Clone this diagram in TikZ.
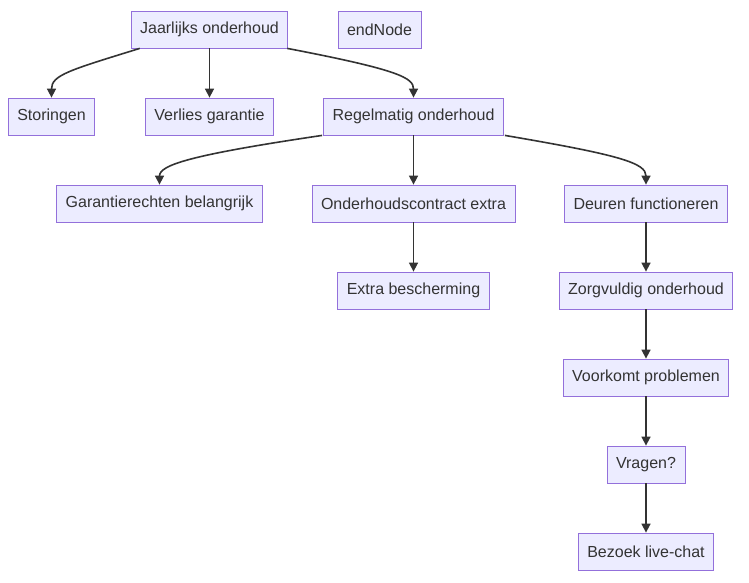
\documentclass[tikz,border=0pt]{standalone}
\usepackage{fontspec}
\setmainfont{Liberation Sans}
\usetikzlibrary{arrows.meta}
\begin{document}
\begin{tikzpicture}[x=1pt,y=-1pt,
  box/.style={draw=purple!50!blue!60!white,draw={rgb,255:red,147;green,112;blue,219},fill={rgb,255:red,236;green,236;blue,255},line width=0.8pt,minimum height=37pt,inner xsep=9pt,font=\fontsize{16}{18}\selectfont,text={rgb,255:red,51;green,51;blue,51}},
  ar/.style={draw={rgb,255:red,51;green,51;blue,51},line width=1.6pt,-{Triangle[length=9pt,width=9pt]}}]
\useasboundingbox (0,0) rectangle (749,582);
\node[box] (J) at (209.5,29.5) {Jaarlijks onderhoud};
\node[box] (E) at (379.5,29.5) {endNode};
\node[box] (S) at (51.5,116.5) {Storingen};
\node[box] (V) at (209.5,116.5) {Verlies garantie};
\node[box] (R) at (413.5,116.5) {Regelmatig onderhoud};
\node[box] (G) at (159.5,203.5) {Garantierechten belangrijk};
\node[box] (O) at (413.5,203.5) {Onderhoudscontract extra};
\node[box] (D) at (646,203.5) {Deuren functioneren};
\node[box] (X) at (413.5,290.5) {Extra bescherming};
\node[box] (Z) at (646,290.5) {Zorgvuldig onderhoud};
\node[box] (K) at (646,377.5) {Voorkomt problemen};
\node[box] (Q) at (646,464.5) {Vragen?};
\node[box] (B) at (646,551.5) {Bezoek live-chat};
\draw[ar] ([xshift=9]J.south west) .. controls (70,70) and (51.5,75) .. (S.north);
\draw[ar] (J) -- (V);
\draw[ar] ([xshift=-1]J.south east) .. controls (400,70) and (413.5,78) .. (R.north);
\draw[ar] ([xshift=-1]R.south west) .. controls (190,155) and (159.5,165) .. (G.north);
\draw[ar] (R) -- (O);
\draw[ar] ([xshift=1]R.south east) .. controls (620,155) and (646,163) .. (D.north);
\draw[ar] (O) -- (X);
\draw[ar] (D) -- (Z);
\draw[ar] (Z) -- (K);
\draw[ar] (K) -- (Q);
\draw[ar] (Q) -- (B);
\end{tikzpicture}
\end{document}
